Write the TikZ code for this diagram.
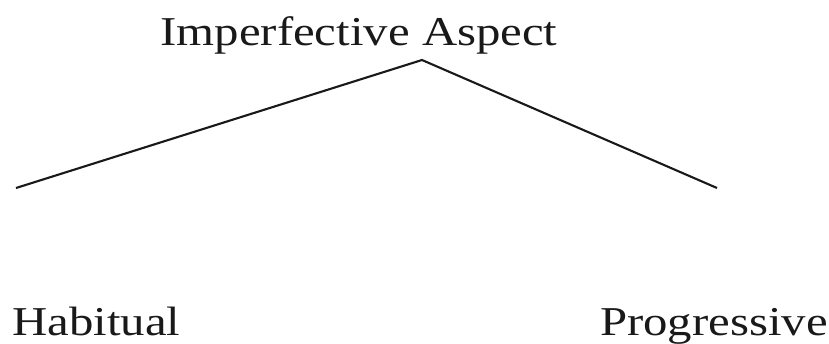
\documentclass[tikz,border=0pt]{standalone}
\usepackage{fontspec}
\setmainfont{Liberation Serif}
\begin{document}
\begin{tikzpicture}[x=1pt,y=1pt,
  lbl/.style={anchor=base,inner sep=0pt,font=\fontsize{41}{48}\selectfont,xscale=1.19,text=black!90},
  branch/.style={line width=2.1pt,black!90}]
\useasboundingbox (0,0) rectangle (829,-343);
\node[lbl] (top) at (359,-45) {Imperfective Aspect};
\node[lbl] (hab) at (96.5,-335) {Habitual};
\node[lbl] (prog) at (714,-335) {Progressive};
\coordinate (apex) at (422,-60);
\coordinate (lend) at (16,-188);
\coordinate (rend) at (717,-188);
\draw[branch] (lend) -- (apex) -- (rend);
\end{tikzpicture}
\end{document}
